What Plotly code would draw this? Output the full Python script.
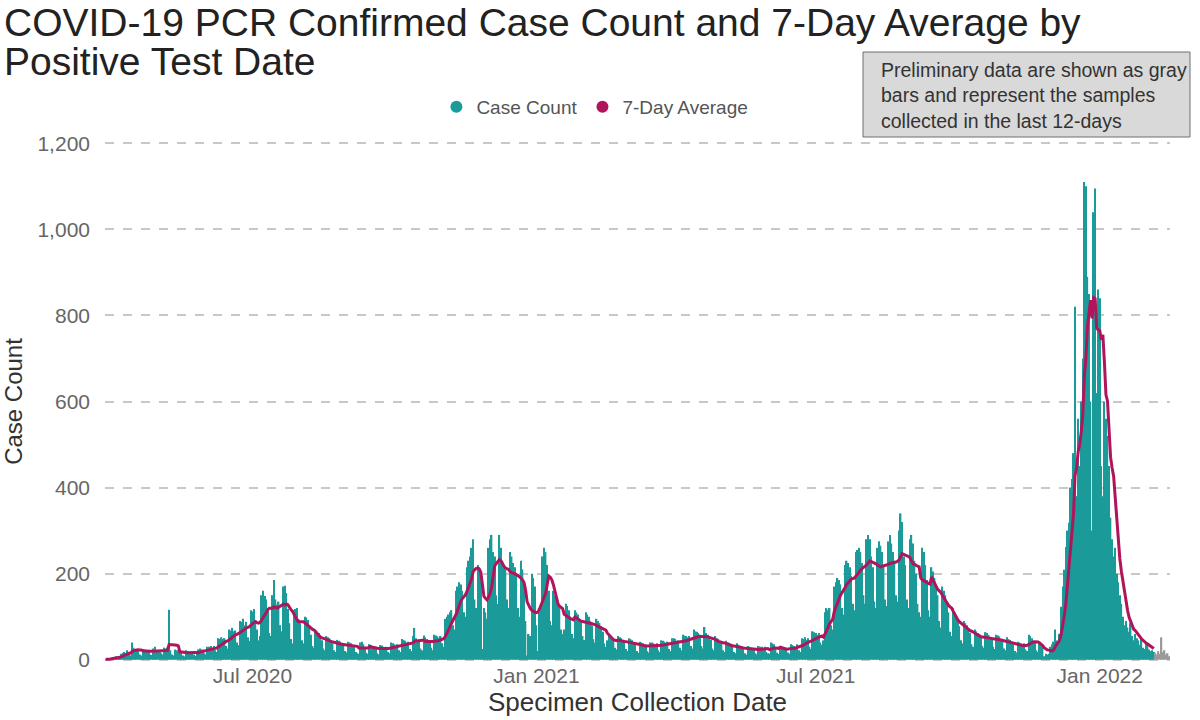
import pandas as pd
import plotly.graph_objects as go

# daily PCR case counts, one row per week, first day 2020-03-28
START_DATE = "2020-03-28"
CASE_COUNT = [
    1, 0, 2, 3, 4, 5, 6,
    8, 5, 4, 14, 16, 18, 15,
    22, 14, 10, 40, 28, 25, 24,
    20, 12, 10, 25, 24, 22, 22,
    21, 12, 11, 26, 30, 22, 20,
    22, 15, 12, 28, 26, 28, 116,
    22, 12, 10, 24, 22, 20, 18,
    16, 10, 8, 22, 20, 18, 18,
    18, 12, 9, 16, 24, 26, 24,
    24, 15, 12, 30, 30, 32, 28,
    32, 22, 18, 50, 48, 52, 48,
    50, 32, 26, 70, 68, 74, 66,
    68, 40, 34, 90, 88, 95, 80,
    88, 52, 44, 115, 112, 118, 92,
    70, 45, 55, 150, 160, 148, 140,
    120, 62, 55, 150, 185, 140, 128,
    135, 80, 66, 170, 172, 155, 118,
    85, 48, 38, 115, 118, 120, 95,
    85, 45, 38, 100, 98, 92, 75,
    58, 32, 28, 68, 65, 62, 55,
    45, 26, 22, 55, 52, 50, 44,
    38, 22, 18, 46, 44, 42, 38,
    34, 20, 17, 42, 40, 38, 34,
    30, 18, 15, 14, 40, 42, 36,
    28, 16, 13, 36, 34, 32, 28,
    27, 15, 12, 34, 33, 30, 27,
    30, 18, 15, 40, 38, 36, 33,
    36, 22, 18, 48, 46, 44, 40,
    42, 25, 20, 55, 74, 50, 45,
    44, 26, 22, 56, 52, 48, 46,
    45, 28, 22, 58, 56, 54, 50,
    55, 38, 30, 95, 100, 105, 110,
    115, 80, 70, 160, 170, 180, 175,
    160, 110, 100, 215, 230, 240, 260,
    280, 140, 120, 220, 215, 190, 25,
    120, 110, 95, 260, 280, 290, 250,
    240, 150, 130, 290, 260, 230, 220,
    210, 140, 120, 250, 240, 225, 215,
    200, 120, 100, 230, 210, 180, 90,
    10, 60, 55, 200, 190, 170, 80,
    20, 110, 120, 240, 260, 250, 220,
    160, 90, 80, 160, 150, 140, 130,
    120, 70, 60, 70, 130, 125, 115,
    100, 60, 50, 115, 110, 105, 95,
    92, 55, 46, 110, 105, 100, 90,
    80, 48, 40, 95, 90, 85, 78,
    65, 38, 30, 45, 60, 55, 50,
    48, 28, 24, 55, 52, 50, 44,
    44, 25, 20, 50, 48, 45, 40,
    36, 20, 16, 42, 40, 38, 34,
    35, 20, 16, 40, 40, 38, 33,
    38, 22, 18, 45, 44, 42, 38,
    42, 25, 20, 50, 50, 48, 44,
    45, 28, 22, 58, 56, 55, 52,
    55, 32, 26, 70, 66, 65, 62,
    58, 32, 26, 76, 62, 58, 52,
    46, 26, 22, 55, 50, 48, 42,
    38, 22, 18, 44, 40, 38, 34,
    32, 18, 15, 38, 35, 32, 28,
    26, 15, 12, 32, 30, 28, 25,
    26, 15, 12, 32, 30, 30, 26,
    30, 18, 15, 14, 40, 38, 36,
    28, 16, 13, 32, 30, 28, 25,
    28, 17, 14, 36, 34, 32, 30,
    36, 22, 18, 50, 48, 52, 46,
    50, 30, 25, 66, 64, 62, 58,
    62, 40, 35, 45, 110, 120, 115,
    120, 80, 70, 170, 180, 190, 185,
    175, 120, 105, 220, 230, 225, 215,
    195, 130, 115, 250, 255, 260, 250,
    225, 150, 130, 280, 290, 280, 240,
    215, 135, 120, 260, 275, 265, 250,
    220, 140, 125, 275, 290, 270, 250,
    230, 150, 135, 300, 340, 320, 240,
    220, 140, 120, 280, 290, 270, 230,
    200, 130, 110, 100, 260, 250, 220,
    185, 115, 100, 215, 205, 190, 170,
    150, 90, 75, 170, 160, 150, 130,
    110, 65, 55, 120, 110, 100, 90,
    78, 45, 38, 90, 85, 80, 72,
    62, 36, 30, 70, 66, 62, 56,
    55, 32, 28, 64, 62, 58, 52,
    50, 30, 25, 58, 56, 54, 48,
    44, 26, 22, 52, 48, 46, 40,
    36, 20, 17, 42, 40, 38, 32,
    38, 24, 20, 58, 55, 50, 44,
    40, 22, 18, 42, 36, 30, 8,
    14, 12, 14, 30, 36, 42, 70,
    45, 40, 60, 123, 170, 209, 262,
    300, 318, 400, 420, 480, 820, 380,
    560, 450, 600, 700, 1110, 1100, 890,
    850, 600, 300, 1040, 1095, 620, 860,
    840, 450, 380, 600, 560, 520, 450,
    330, 280, 240, 260, 200, 180, 150,
    130, 100, 80, 90, 75, 65, 85,
    55, 45, 60, 50, 45, 35, 50,
    28, 25, 38, 35, 24, 20, 22,
    18,
]
# preliminary counts (most recent days), shown in gray
PRELIM_COUNT = [16, 12, 20, 14, 52, 18, 22, 12, 15, 8]

TICK_DATES = ["2020-07-01", "2021-01-01", "2021-07-01", "2022-01-01"]
TICK_LABELS = ["Jul 2020", "Jan 2021", "Jul 2021", "Jan 2022"]

TITLE_LINES = ["COVID-19 PCR Confirmed Case Count and 7-Day Average by", "Positive Test Date"]
NOTE = "Preliminary data are shown as gray<br>bars and represent the samples<br>collected in the last 12-days"

TEAL = "#1a9a99"
BERRY = "#b0155c"
GRAY_BAR = "#9a9a9a"

# plot area in page pixels: left 105, right 1170, top 142, bottom 661
L, R, T, B = 105, 30, 142, 59
PW, PH = 1200 - L - R, 720 - T - B


def px_x(x):
    return (x - L) / PW


def px_y(y):
    return (720 - B - y) / PH


dates = pd.date_range(START_DATE, periods=len(CASE_COUNT) + len(PRELIM_COUNT), freq="D")
df = pd.DataFrame({"date": dates[: len(CASE_COUNT)], "count": CASE_COUNT})
df["avg7"] = df["count"].rolling(7, min_periods=1).mean()
prelim = pd.DataFrame({"date": dates[len(CASE_COUNT):], "count": PRELIM_COUNT})

fig = go.Figure()
fig.add_trace(go.Bar(x=df["date"], y=df["count"], marker=dict(color=TEAL, line=dict(width=0)),
                     showlegend=False, name="Case Count"))
fig.add_trace(go.Bar(x=prelim["date"], y=prelim["count"], marker=dict(color=GRAY_BAR, line=dict(width=0)),
                     showlegend=False, name="Preliminary"))
fig.add_trace(go.Scatter(x=df["date"], y=df["avg7"], mode="lines", line=dict(color=BERRY, width=3),
                         showlegend=False, name="7-Day Average"))
# legend entries drawn as dots, like the original
fig.add_trace(go.Scatter(x=[None], y=[None], mode="markers", name="Case Count",
                         marker=dict(color=TEAL, size=12, symbol="circle")))
fig.add_trace(go.Scatter(x=[None], y=[None], mode="markers", name="7-Day Average",
                         marker=dict(color=BERRY, size=12, symbol="circle")))

x_start = dates[0] - pd.Timedelta(hours=12)
x_end = dates[-1] + pd.Timedelta(hours=12)

fig.update_layout(
    width=1200, height=720,
    margin=dict(l=L, r=R, t=T, b=B),
    paper_bgcolor="white", plot_bgcolor="white",
    font=dict(family="Liberation Sans, Arial, sans-serif", color="#666666"),
    bargap=0.06,
    legend=dict(orientation="h", x=0.46, xanchor="center", y=px_y(107), yanchor="middle",
                font=dict(size=19, color="#555555"), itemwidth=30, tracegroupgap=0,
                bgcolor="rgba(0,0,0,0)"),
    xaxis=dict(type="date", range=[x_start, x_end], tickvals=TICK_DATES, ticktext=TICK_LABELS,
               showgrid=False, zeroline=False, showline=False, ticks="", automargin=False,
               tickfont=dict(size=21, color="#666666"),
               title=dict(text="Specimen Collection Date", font=dict(size=26, color="#333333"), standoff=6)),
    yaxis=dict(range=[-3, 1203], tickvals=[0, 200, 400, 600, 800, 1000, 1200], tickformat=",d",
               showgrid=True, gridcolor="#c8c8c8", griddash="dash", gridwidth=2, zeroline=False,
               tickfont=dict(size=21, color="#666666"), ticks="", ticklabelstandoff=14, automargin=False,
               title=dict(text="Case Count", font=dict(size=24, color="#333333"), standoff=8)),
)

# two-line title, one annotation per line to keep the tight line spacing
for text, y_px in zip(TITLE_LINES, [23, 62]):
    fig.add_annotation(
        xref="paper", yref="paper", x=px_x(2), y=px_y(y_px), xanchor="left", yanchor="middle",
        text=text, showarrow=False, font=dict(size=39, color="#222222"),
    )

# note box
fig.add_shape(type="rect", xref="paper", yref="paper",
              x0=px_x(863), x1=px_x(1190), y0=px_y(137), y1=px_y(52),
              fillcolor="#d9d9d9", line=dict(color="#6e6e6e", width=1))
fig.add_annotation(
    xref="paper", yref="paper", x=px_x(879), y=px_y(95), xanchor="left", yanchor="middle",
    text=NOTE, align="left", showarrow=False, font=dict(size=19.5, color="#333333"),
)

fig.write_html("out.html", config={"displayModeBar": False},
               post_script="document.body.style.margin = '0';")
